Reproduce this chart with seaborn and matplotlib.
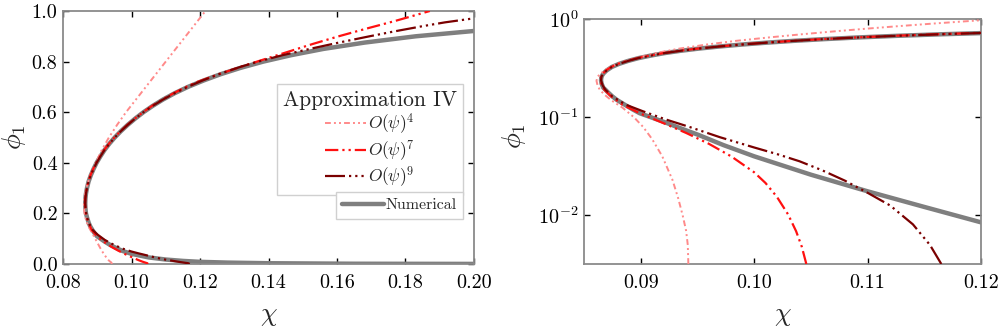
import numpy as np
import pandas as pd
import matplotlib
matplotlib.use("Agg")
import matplotlib.pyplot as plt
import seaborn as sns

# ---- data: phase-boundary curves, phi_1 versus chi ----
numerical_phi = [0.0003, 0.001, 0.003, 0.0055, 0.0085, 0.0122, 0.0176, 0.026, 0.040, 0.052,
                 0.066, 0.075, 0.09, 0.11, 0.12, 0.134, 0.15, 0.163, 0.18, 0.19, 0.20, 0.22,
                 0.238, 0.25, 0.26, 0.27, 0.28, 0.29, 0.30, 0.325, 0.35, 0.375, 0.40, 0.425,
                 0.45, 0.475, 0.50, 0.525, 0.55, 0.575, 0.60, 0.625, 0.65, 0.675, 0.70, 0.725,
                 0.75, 0.775, 0.80, 0.825, 0.85, 0.875, 0.90, 0.921]
numerical_chi = [0.2000, 0.1650, 0.1400, 0.1280, 0.1200, 0.1150, 0.1100, 0.1050, 0.1000, 0.0973,
                 0.0951, 0.0938, 0.0920, 0.0899, 0.0893, 0.0886, 0.0879, 0.0875, 0.0871, 0.0869, 0.0867, 0.08655,
                 0.0865, 0.08652, 0.08656, 0.08663, 0.08673, 0.08686, 0.0870, 0.08745, 0.0881, 0.0889, 0.0898, 0.0909,
                 0.0921, 0.0935, 0.0951, 0.0969, 0.0989, 0.1011, 0.1035, 0.1062, 0.1092, 0.1126, 0.1165, 0.1210,
                 0.1260, 0.1318, 0.1385, 0.1465, 0.1560, 0.1680, 0.1830, 0.2000]

o4_phi = [0.0, 0.0032, 0.005, 0.007, 0.01, 0.015, 0.023, 0.04, 0.06, 0.08, 0.10, 0.125,
          0.149, 0.17, 0.19, 0.21, 0.235, 0.26, 0.30, 0.35, 0.40, 0.45, 0.50, 0.55, 0.60,
          0.65, 0.70, 0.75, 0.80, 0.85, 0.90, 0.95, 1.0]
o4_chi = [0.0943, 0.0942, 0.09415, 0.0940, 0.0937, 0.0933, 0.0928, 0.0919, 0.0910, 0.0902, 0.0894, 0.0884,
          0.0874, 0.0868, 0.0864, 0.0862, 0.0861, 0.0862, 0.0868, 0.0879, 0.0896, 0.0913, 0.0934, 0.0958, 0.0984,
          0.1013, 0.1042, 0.1071, 0.1100, 0.1129, 0.1158, 0.1187, 0.1216]

o7_phi = [0.0, 0.0032, 0.0048, 0.0069, 0.0102, 0.0155, 0.0214, 0.0275, 0.0398, 0.0537, 0.0692,
          0.0871, 0.110, 0.134, 0.163, 0.19, 0.21, 0.238, 0.26, 0.28, 0.30, 0.325, 0.35, 0.375,
          0.40, 0.425, 0.45, 0.475, 0.50, 0.525, 0.55, 0.575, 0.60, 0.625, 0.65, 0.675, 0.70,
          0.72, 0.75, 0.78, 0.81, 0.84, 0.87, 0.90, 0.93, 0.96, 0.98, 1.0]
o7_chi = [0.1048, 0.1046, 0.1042, 0.1037, 0.1030, 0.1020, 0.1010, 0.1000, 0.0980, 0.0960, 0.0940,
          0.0920, 0.0899, 0.0884, 0.0874, 0.0868, 0.0866, 0.0864, 0.08652, 0.0867, 0.08695, 0.0874, 0.0880, 0.0888,
          0.0897, 0.0908, 0.0920, 0.0934, 0.0950, 0.0968, 0.0988, 0.1010, 0.1034, 0.1060, 0.1090, 0.1123, 0.1160,
          0.1193, 0.1255, 0.1320, 0.1390, 0.1460, 0.1530, 0.1605, 0.1685, 0.1768, 0.1820, 0.1871]

o9_phi = [0.0, 0.0032, 0.0050, 0.0081, 0.0126, 0.0170, 0.0226, 0.0288, 0.0356, 0.0422, 0.0492,
          0.0625, 0.0796, 0.095, 0.115, 0.134, 0.163, 0.19, 0.21, 0.238, 0.26, 0.28, 0.30, 0.325,
          0.35, 0.375, 0.40, 0.425, 0.45, 0.475, 0.50, 0.525, 0.55, 0.575, 0.60, 0.625, 0.65,
          0.675, 0.70, 0.725, 0.75, 0.78, 0.80, 0.825, 0.85, 0.875, 0.90, 0.92, 0.94, 0.955, 0.971]
o9_chi = [0.1170, 0.1165, 0.1155, 0.1140, 0.1120, 0.1100, 0.1080, 0.1060, 0.1040, 0.1020, 0.1000,
          0.0970, 0.0943, 0.0922, 0.0902, 0.0887, 0.0875, 0.0869, 0.08665, 0.0865, 0.08654, 0.08672, 0.0870, 0.08745,
          0.0881, 0.0889, 0.0898, 0.0909, 0.0921, 0.0935, 0.0951, 0.0969, 0.0989, 0.1011, 0.1035, 0.1062, 0.1092,
          0.1126, 0.1164, 0.1207, 0.1255, 0.1320, 0.1370, 0.1440, 0.1520, 0.1605, 0.1695, 0.1770, 0.1850, 0.1915, 0.2000]

approx_labels = [r"$O(\psi)^4$", r"$O(\psi)^7$", r"$O(\psi)^9$"]
legend_title = "Approximation IV"
numerical_label = "Numerical"
left_xticks = [0.08, 0.10, 0.12, 0.14, 0.16, 0.18, 0.20]
left_yticks = [0.0, 0.2, 0.4, 0.6, 0.8, 1.0]
right_xticks = [0.09, 0.10, 0.11, 0.12]
right_yticks = [1e-2, 1e-1, 1e0]

# ---- style ----
sns.set_theme(style="ticks")
plt.rcParams.update({
    "font.family": "serif",
    "font.serif": ["cmr10", "DejaVu Serif"],
    "mathtext.fontset": "cm",
    "axes.formatter.use_mathtext": True,
    "axes.unicode_minus": False,
    "xtick.direction": "in",
    "ytick.direction": "in",
    "xtick.top": True,
    "ytick.right": True,
    "xtick.color": "black",
    "ytick.color": "black",
    "axes.edgecolor": "#8a8a8a",
    "axes.linewidth": 1.3,
})

col_num = "#7f7f7f"
col_o4 = "#ff8a8a"
col_o7 = "#ff1010"
col_o9 = "#7a0000"
ls_o4 = (0, (3.0, 1.6, 1.0, 1.6, 1.0, 1.6))
ls_o7 = (0, (6.0, 1.8, 1.0, 1.8, 1.0, 1.8))
ls_o9 = (0, (9.0, 1.8, 1.0, 1.8, 1.0, 1.8, 1.0, 1.8))

curves = [
    (o4_chi, o4_phi, col_o4, ls_o4, 1.4),
    (o7_chi, o7_phi, col_o7, ls_o7, 1.6),
    (o9_chi, o9_phi, col_o9, ls_o9, 1.6),
]

fig = plt.figure(figsize=(10.0, 3.27), dpi=100)
ax1 = fig.add_axes([0.063, 0.1927, 0.411, 0.7737])
ax2 = fig.add_axes([0.584, 0.1927, 0.397, 0.749])


def draw(ax, positive_only=False):
    handles = []
    df = pd.DataFrame({"chi": numerical_chi, "phi": numerical_phi})
    sns.lineplot(data=df, x="chi", y="phi", sort=False, estimator=None,
                 color=col_num, lw=3.2, ax=ax, legend=False, zorder=2)
    num_line = ax.lines[-1]
    for chi, phi, c, ls, lw in curves:
        d = pd.DataFrame({"chi": chi, "phi": phi})
        if positive_only:
            d = d[d["phi"] > 0]
        sns.lineplot(data=d, x="chi", y="phi", sort=False, estimator=None,
                     color=c, lw=lw, linestyle=ls, ax=ax, legend=False, zorder=3)
        handles.append(ax.lines[-1])
    return num_line, handles


num_line, approx_lines = draw(ax1)
draw(ax2, positive_only=True)

# left panel: linear axes
ax1.set_xlim(0.08, 0.20)
ax1.set_ylim(0.0, 1.0)
ax1.set_xticks(left_xticks)
ax1.set_xticklabels([f"{v:.2f}" for v in left_xticks])
ax1.set_yticks(left_yticks)
ax1.set_yticklabels([f"{v:.1f}" for v in left_yticks])

# right panel: logarithmic phi axis
ax2.set_yscale("log")
ax2.set_xlim(0.085, 0.12)
ax2.set_ylim(3.2e-3, 1.0)
ax2.set_xticks(right_xticks)
ax2.set_xticklabels([f"{v:.2f}" for v in right_xticks])
ax2.set_yticks(right_yticks)
ax2.yaxis.set_minor_locator(matplotlib.ticker.NullLocator())

for ax in (ax1, ax2):
    ax.tick_params(axis="both", which="major", length=4.5, width=1.0,
                   labelsize=14.5)
    ax.tick_params(axis="x", pad=7)
    ax.tick_params(axis="y", pad=4)
    ax.set_xlabel(r"$\chi$", fontsize=19)
    ax.set_ylabel(r"$\phi_1$", fontsize=19)

ax1.xaxis.set_label_coords(0.5, -0.16)
ax2.xaxis.set_label_coords(0.5, -0.165)
ax1.yaxis.set_label_coords(-0.086, 0.5)
ax2.yaxis.set_label_coords(-0.142, 0.52)

# legends
leg1 = ax1.legend(approx_lines, approx_labels, title=legend_title,
                  loc="upper right", bbox_to_anchor=(0.973, 0.711),
                  fontsize=12.5, title_fontsize=15.5, frameon=True, fancybox=False,
                  edgecolor="#d0d0d0", framealpha=1.0, handlelength=2.4,
                  handletextpad=0.1, labelspacing=0.1, borderpad=0.35,
                  borderaxespad=0.0)
leg1.get_frame().set_linewidth(1.0)
ax1.add_artist(leg1)
leg2 = ax1.legend([num_line], [numerical_label], loc="upper right",
                  bbox_to_anchor=(0.973, 0.285), fontsize=11.5, frameon=True,
                  fancybox=False, edgecolor="#d0d0d0", framealpha=1.0,
                  handlelength=2.6, handletextpad=0.1, borderpad=0.4,
                  borderaxespad=0.0)
leg2.get_frame().set_linewidth(1.0)

fig.savefig("out.png", dpi=100)
